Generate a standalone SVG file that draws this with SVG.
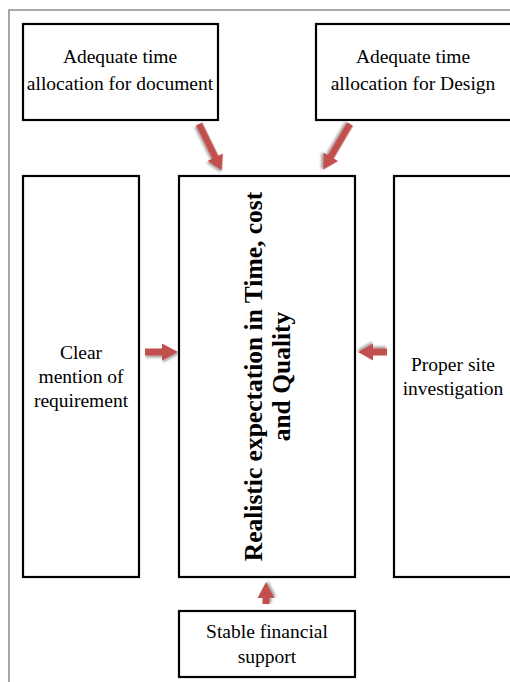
<svg xmlns="http://www.w3.org/2000/svg" width="510" height="682" viewBox="0 0 510 682">
  <defs>
    <style>
      .box { fill: #ffffff; stroke: #000000; stroke-width: 2.2; }
      .frame { fill: none; stroke: #8c8c8c; stroke-width: 1.5; }
      .lbl { font-family: "Liberation Serif", "Times New Roman", serif; font-size: 19.5px; fill: #000000; text-anchor: middle; }
      .core { font-family: "Liberation Serif", "Times New Roman", serif; font-size: 25.5px; font-weight: bold; fill: #000000; text-anchor: middle; }
      .arrow { fill: #c0504d; filter: url(#shadow); }
    </style>
    <filter id="shadow" x="-50%" y="-50%" width="200%" height="200%">
      <feGaussianBlur in="SourceAlpha" stdDeviation="1.3"/>
      <feOffset dx="1" dy="2" result="blur"/>
      <feFlood flood-color="#000000" flood-opacity="0.35"/>
      <feComposite in2="blur" operator="in"/>
      <feMerge>
        <feMergeNode/>
        <feMergeNode in="SourceGraphic"/>
      </feMerge>
    </filter>
  </defs>

  <rect width="510" height="682" fill="#ffffff"/>
  <!-- page frame -->
  <path class="frame" d="M9,700 V10 H530"/>

  <g id="node-doc-time">
    <rect class="box" x="23" y="24" width="195" height="96"/>
    <text class="lbl" x="120" y="63">Adequate time</text>
    <text class="lbl" x="120" y="90">allocation for document</text>
  </g>

  <g id="node-design-time">
    <rect class="box" x="316" y="24" width="220" height="96"/>
    <text class="lbl" x="413" y="63">Adequate time</text>
    <text class="lbl" x="413" y="90">allocation for Design</text>
  </g>

  <g id="node-requirement">
    <rect class="box" x="23" y="176" width="116" height="401"/>
    <text class="lbl" x="81" y="359">Clear</text>
    <text class="lbl" x="81" y="383">mention of</text>
    <text class="lbl" x="81" y="407">requirement</text>
  </g>

  <g id="node-expectation">
    <rect class="box" x="179" y="176" width="176" height="401"/>
    <g transform="translate(0,376.5) rotate(-90)">
      <text class="core" x="0" y="262">Realistic expectation in Time, cost</text>
      <text class="core" x="0" y="290">and Quality</text>
    </g>
  </g>

  <g id="node-site">
    <rect class="box" x="394" y="176" width="140" height="401"/>
    <text class="lbl" x="453" y="371">Proper site</text>
    <text class="lbl" x="453" y="395">investigation</text>
  </g>

  <g id="node-finance">
    <rect class="box" x="179" y="611" width="176" height="66"/>
    <text class="lbl" x="267" y="638">Stable financial</text>
    <text class="lbl" x="267" y="663">support</text>
  </g>

  <g id="connectors">
    <!-- doc time -> expectation -->
    <path class="arrow" transform="translate(199,124) rotate(63.9)" d="M0,-3.6 H37 V-8.6 L52,0 L37,8.6 V3.6 H0 Z"/>
    <!-- design time -> expectation -->
    <path class="arrow" transform="translate(350,124) rotate(120.4)" d="M0,-3.6 H38 V-8.6 L53,0 L38,8.6 V3.6 H0 Z"/>
    <!-- requirement -> expectation -->
    <path class="arrow" transform="translate(145,352)" d="M0,-3.6 H17 V-8.6 L33,0 L17,8.6 V3.6 H0 Z"/>
    <!-- site -> expectation -->
    <path class="arrow" transform="translate(387,352) rotate(180)" d="M0,-3.6 H14 V-8.6 L29,0 L14,8.6 V3.6 H0 Z"/>
    <!-- finance -> expectation -->
    <path class="arrow" transform="translate(266,604) rotate(-90)" d="M0,-3.6 H6 V-8.6 L22,0 L6,8.6 V3.6 H0 Z"/>
  </g>
</svg>
